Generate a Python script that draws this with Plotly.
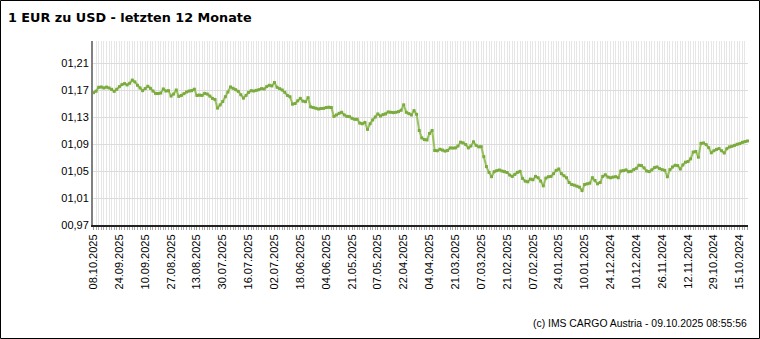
import plotly.graph_objects as go

# Tick labels (every 10th trading day, newest on the left)
tick_labels = ["08.10.2025", "24.09.2025", "10.09.2025", "27.08.2025", "13.08.2025",
               "30.07.2025", "16.07.2025", "02.07.2025", "18.06.2025", "04.06.2025",
               "21.05.2025", "07.05.2025", "22.04.2025", "04.04.2025", "21.03.2025",
               "07.03.2025", "21.02.2025", "07.02.2025", "24.01.2025", "10.01.2025",
               "24.12.2024", "10.12.2024", "26.11.2024", "12.11.2024", "29.10.2024",
               "15.10.2024"]

# EUR/USD daily rates, newest (08.10.2025) first, oldest (10.10.2024) last
rates = [
    1.1660, 1.1683, 1.1740, 1.1745, 1.1730, 1.1743, 1.1730, 1.1710, 1.1680, 1.1711,
    1.1750, 1.1780, 1.1795, 1.1775, 1.1800, 1.1847, 1.1820, 1.1770, 1.1730, 1.1690,
    1.1721, 1.1755, 1.1725, 1.1685, 1.1650, 1.1648, 1.1655, 1.1715, 1.1685, 1.1690,
    1.1610, 1.1640, 1.1700, 1.1605, 1.1620, 1.1645, 1.1671, 1.1685, 1.1690, 1.1712,
    1.1620, 1.1625, 1.1620, 1.1650, 1.1640, 1.1610, 1.1576, 1.1560, 1.1432, 1.1480,
    1.1530, 1.1600, 1.1670, 1.1745, 1.1725, 1.1705, 1.1680, 1.1630, 1.1580, 1.1620,
    1.1665, 1.1690, 1.1685, 1.1695, 1.1705, 1.1720, 1.1715, 1.1750, 1.1770, 1.1760,
    1.1810, 1.1740, 1.1720, 1.1700, 1.1665, 1.1620, 1.1600, 1.1490, 1.1500, 1.1540,
    1.1576, 1.1535, 1.1527, 1.1586, 1.1450, 1.1440, 1.1430, 1.1418, 1.1425, 1.1428,
    1.1440, 1.1445, 1.1440, 1.1309, 1.1330, 1.1355, 1.1370, 1.1330, 1.1310, 1.1305,
    1.1280, 1.1266, 1.1266, 1.1210, 1.1200, 1.1220, 1.1117, 1.1200, 1.1256, 1.1300,
    1.1345, 1.1315, 1.1335, 1.1345, 1.1375, 1.1370, 1.1365, 1.1370, 1.1380, 1.1400,
    1.1480, 1.1370, 1.1350, 1.1330, 1.1394, 1.1340, 1.1100, 1.0990, 1.0965, 1.0960,
    1.1057, 1.1100, 1.0804, 1.0800, 1.0823, 1.0810, 1.0795, 1.0805, 1.0842, 1.0840,
    1.0842, 1.0870, 1.0927, 1.0917, 1.0892, 1.0842, 1.0870, 1.0932, 1.0880, 1.0858,
    1.0860, 1.0712, 1.0565, 1.0480, 1.0416, 1.0490, 1.0505, 1.0515, 1.0500, 1.0490,
    1.0478, 1.0440, 1.0420, 1.0450, 1.0480, 1.0495, 1.0390, 1.0350, 1.0340, 1.0380,
    1.0370, 1.0420, 1.0400, 1.0350, 1.0280, 1.0395, 1.0415, 1.0420, 1.0460, 1.0510,
    1.0530, 1.0460, 1.0430, 1.0400, 1.0330, 1.0300, 1.0290, 1.0275, 1.0260, 1.0210,
    1.0300, 1.0310, 1.0320, 1.0400, 1.0360, 1.0310, 1.0330, 1.0420, 1.0444, 1.0410,
    1.0400, 1.0410, 1.0416, 1.0400, 1.0500, 1.0505, 1.0516, 1.0490, 1.0495, 1.0520,
    1.0540, 1.0585, 1.0580, 1.0545, 1.0500, 1.0491, 1.0516, 1.0550, 1.0560, 1.0535,
    1.0520, 1.0510, 1.0415, 1.0520, 1.0560, 1.0585, 1.0580, 1.0530, 1.0590, 1.0630,
    1.0640, 1.0680, 1.0780, 1.0790, 1.0705, 1.0910, 1.0915, 1.0890, 1.0846, 1.0770,
    1.0800, 1.0820, 1.0832, 1.0800, 1.0767, 1.0830, 1.0856, 1.0866, 1.0880, 1.0896,
    1.0905, 1.0925, 1.0935, 1.0945,
]

y_ticks = [0.97, 1.01, 1.05, 1.09, 1.13, 1.17, 1.21]
y_tick_text = ["00,97", "01,01", "01,05", "01,09", "01,13", "01,17", "01,21"]

title_text = "1 EUR zu USD - letzten 12 Monate"
footer_text = "(c) IMS CARGO Austria - 09.10.2025 08:55:56"

idx = list(range(len(rates)))
tick_pos = [i * 10 for i in range(len(tick_labels))]

W, H = 760, 339
L, R, T, B = 93, 12, 41, 114
pw, ph = W - L - R, H - T - B

fig = go.Figure()
fig.add_trace(go.Scatter(
    x=idx, y=rates, mode="lines+markers",
    line=dict(color="#98c25e", width=2),
    marker=dict(symbol="square", size=3, color="#7aab3c"),
    cliponaxis=False,
    hoverinfo="y",
))

fig.update_layout(
    width=W, height=H,
    margin=dict(l=L, r=R, t=T, b=B),
    paper_bgcolor="white", plot_bgcolor="white",
    showlegend=False,
    font=dict(family="Liberation Sans, Arial, sans-serif", size=11, color="#000"),
    title=dict(text=title_text, x=8 / W, xanchor="left", xref="container",
               y=1 - 17.5 / H, yanchor="middle", yref="container",
               font=dict(family="DejaVu Sans", size=12.8, color="#000", weight="bold")),
)

fig.update_xaxes(
    range=[-0.2, 253.2],
    tickmode="array", tickvals=tick_pos, ticktext=tick_labels,
    tickangle=-90, tickfont=dict(size=11),
    showgrid=True, gridcolor="#e6e6e6", gridwidth=1,
    ticks="outside", ticklen=3, tickcolor="#999",
    minor=dict(tickmode="linear", tick0=0, dtick=1, showgrid=True,
               gridcolor="#e6e6e6", gridwidth=1, ticks="outside", ticklen=3,
               tickcolor="#aaa"),
    showline=True, linecolor="#222", linewidth=2,
    zeroline=False, fixedrange=True,
)
fig.update_yaxes(
    range=[0.97, 0.97 + ph / 675.0],
    tickmode="array", tickvals=y_ticks, ticktext=y_tick_text,
    tickfont=dict(size=11),
    showgrid=True, gridcolor="#dcdcdc", gridwidth=1,
    showline=True, linecolor="#808080", linewidth=2,
    ticks="", zeroline=False, fixedrange=True,
)

fig.add_annotation(
    text=footer_text, xref="paper", yref="paper",
    x=(749 - L) / pw, y=(T + ph - 323) / ph,
    xanchor="right", yanchor="middle", showarrow=False,
    font=dict(size=10.4, color="#000"),
)

# outer frame
fig.add_shape(type="rect", xref="paper", yref="paper",
              x0=(0.5 - L) / pw, x1=(W - 0.5 - L) / pw,
              y0=(T + ph - (H - 0.5)) / ph, y1=(T + ph - 0.5) / ph,
              line=dict(color="#000", width=1), layer="above")

fig.write_html("out.html")
